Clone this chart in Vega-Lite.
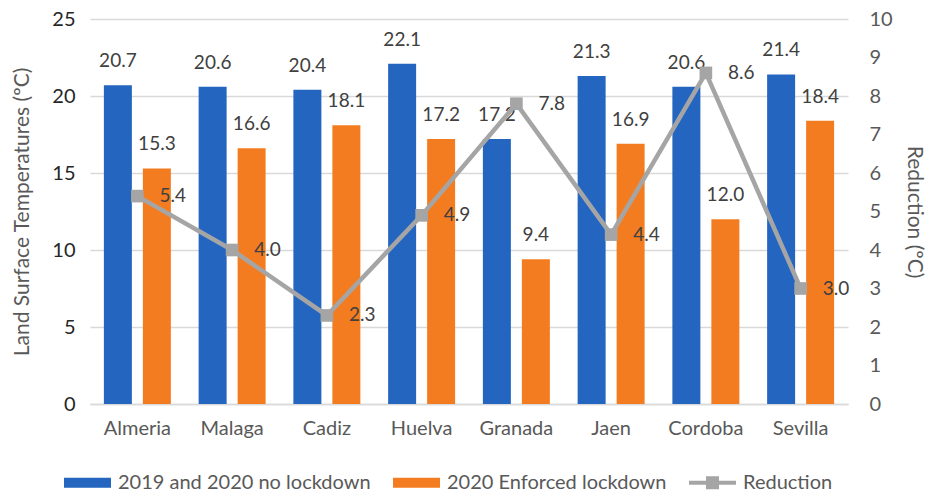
{
  "$schema": "https://vega.github.io/schema/vega-lite/v6.json",
  "autosize": {"type": "none"},
  "width": 758,
  "height": 385,
  "padding": {"left": 90, "top": 19, "right": 80, "bottom": 90},
  "background": "white",
  "config": {
    "view": {"stroke": null},
    "font": "Lato",
    "axis": {"labelFont": "Lato", "titleFont": "Lato", "titleFontWeight": "normal"}
  },
  "datasets": {
    "temps": [
      {"city": "Almeria", "series": "2019 and 2020 no lockdown", "temp": 20.7},
      {"city": "Almeria", "series": "2020 Enforced lockdown", "temp": 15.3},
      {"city": "Malaga", "series": "2019 and 2020 no lockdown", "temp": 20.6},
      {"city": "Malaga", "series": "2020 Enforced lockdown", "temp": 16.6},
      {"city": "Cadiz", "series": "2019 and 2020 no lockdown", "temp": 20.4},
      {"city": "Cadiz", "series": "2020 Enforced lockdown", "temp": 18.1},
      {"city": "Huelva", "series": "2019 and 2020 no lockdown", "temp": 22.1},
      {"city": "Huelva", "series": "2020 Enforced lockdown", "temp": 17.2},
      {"city": "Granada", "series": "2019 and 2020 no lockdown", "temp": 17.2},
      {"city": "Granada", "series": "2020 Enforced lockdown", "temp": 9.4},
      {"city": "Jaen", "series": "2019 and 2020 no lockdown", "temp": 21.3},
      {"city": "Jaen", "series": "2020 Enforced lockdown", "temp": 16.9},
      {"city": "Cordoba", "series": "2019 and 2020 no lockdown", "temp": 20.6},
      {"city": "Cordoba", "series": "2020 Enforced lockdown", "temp": 12.0},
      {"city": "Sevilla", "series": "2019 and 2020 no lockdown", "temp": 21.4},
      {"city": "Sevilla", "series": "2020 Enforced lockdown", "temp": 18.4}
    ],
    "reduction": [
      {"city": "Almeria", "reduction": 5.4},
      {"city": "Malaga", "reduction": 4.0},
      {"city": "Cadiz", "reduction": 2.3},
      {"city": "Huelva", "reduction": 4.9},
      {"city": "Granada", "reduction": 7.8},
      {"city": "Jaen", "reduction": 4.4},
      {"city": "Cordoba", "reduction": 8.6},
      {"city": "Sevilla", "reduction": 3.0}
    ]
  },
  "encoding": {
    "x": {
      "field": "city",
      "type": "nominal",
      "sort": ["Almeria", "Malaga", "Cadiz", "Huelva", "Granada", "Jaen", "Cordoba", "Sevilla"],
      "scale": {"paddingInner": 0, "paddingOuter": 0},
      "axis": {
        "title": null,
        "labelAngle": 0,
        "labelFontSize": 20,
        "labelColor": "#595959",
        "labelPadding": 14,
        "ticks": false,
        "domain": true,
        "domainColor": "#d9d9d9",
        "domainWidth": 1.5
      }
    }
  },
  "layer": [
    {
      "data": {"name": "temps"},
      "encoding": {
        "y": {
          "field": "temp",
          "type": "quantitative",
          "scale": {"domain": [0, 25]},
          "axis": {
            "title": "Land Surface Temperatures (ºC)",
            "titleFontSize": 21,
            "titleColor": "#595959",
            "titlePadding": 19,
            "values": [0, 5, 10, 15, 20, 25],
            "labelFontSize": 20,
            "labelColor": "#262626",
            "labelPadding": 15,
            "ticks": false,
            "domain": false,
            "grid": true,
            "gridColor": "#d9d9d9",
            "gridWidth": 1.5
          }
        },
        "xOffset": {
          "field": "series",
          "type": "nominal",
          "scale": {
            "domain": ["2019 and 2020 no lockdown", "2020 Enforced lockdown"],
            "paddingInner": 0.282,
            "paddingOuter": 0.356
          }
        }
      },
      "layer": [
        {
          "mark": {"type": "bar"},
          "encoding": {
            "color": {
              "field": "series",
              "type": "nominal",
              "scale": {
                "domain": ["2019 and 2020 no lockdown", "2020 Enforced lockdown", "Reduction"],
                "range": ["#2465bf", "#f47c20", "#a5a5a5"]
              },
              "legend": {
                "title": null,
                "orient": "none",
                "direction": "horizontal",
                "legendX": -26,
                "legendY": 440,
                "symbolSize": 2209,
                "symbolStrokeWidth": 0,
                "labelFontSize": 20,
                "labelColor": "#595959",
                "labelOffset": 7,
                "columnPadding": 22,
                "labelLimit": 400,
                "encode": {
                  "symbols": {
                    "update": {
                      "shape": {"signal": "datum.value === 'Reduction' ? 'M-1,-0.085H-0.277V-0.277H0.277V-0.085H1V0.085H0.277V0.277H-0.277V0.085H-1Z' : 'M-1,-0.213H1V0.213H-1Z'"},
                      "opacity": {"value": 1},
                      "strokeWidth": {"value": 0}
                    }
                  }
                }
              }
            }
          }
        },
        {
          "mark": {"type": "text", "dy": -24, "baseline": "middle", "fontSize": 19, "color": "#404040"},
          "encoding": {"text": {"field": "temp", "type": "quantitative", "format": ".1f"}}
        }
      ]
    },
    {
      "data": {"name": "reduction"},
      "encoding": {
        "y": {
          "field": "reduction",
          "type": "quantitative",
          "scale": {"domain": [0, 10]},
          "axis": {
            "orient": "right",
            "title": "Reduction (ºC)",
            "titleFontSize": 21,
            "titleColor": "#595959",
            "titlePadding": 11,
            "values": [0, 1, 2, 3, 4, 5, 6, 7, 8, 9, 10],
            "labelFontSize": 20,
            "labelColor": "#595959",
            "labelPadding": 21,
            "ticks": false,
            "domain": false,
            "grid": false
          }
        }
      },
      "layer": [
        {
          "mark": {"type": "line", "color": "#a5a5a5", "strokeWidth": 4.5},
          "encoding": {}
        },
        {
          "mark": {"type": "point", "shape": "square", "size": 160, "filled": true, "color": "#a5a5a5", "opacity": 1},
          "encoding": {}
        },
        {
          "mark": {"type": "text", "align": "left", "baseline": "middle", "dx": 22, "fontSize": 19, "color": "#404040"},
          "encoding": {"text": {"field": "reduction", "type": "quantitative", "format": ".1f"}}
        }
      ]
    }
  ],
  "resolve": {"scale": {"y": "independent"}}
}
